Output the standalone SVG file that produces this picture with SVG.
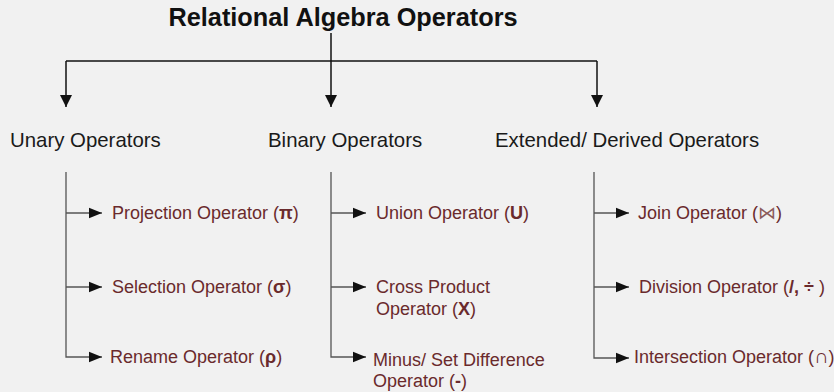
<svg xmlns="http://www.w3.org/2000/svg" width="834" height="392" viewBox="0 0 834 392">
<style>
.title{font-family:"Liberation Sans",Arial,sans-serif;font-weight:bold;font-size:25.3px;fill:#111}
.head{font-family:"Liberation Sans",Arial,sans-serif;font-size:20.4px;fill:#1a1a1a}
.item{font-family:"Liberation Sans",Arial,sans-serif;font-size:18px;fill:#6a2a2c}
.b{font-weight:bold}
.ln{stroke:#111;stroke-width:1.5;fill:none}
.sl{stroke:#555;stroke-width:1.3;fill:none}
</style>
<defs>
<marker id="big" viewBox="0 0 10 10" refX="10" refY="5" markerWidth="12" markerHeight="12" markerUnits="userSpaceOnUse" orient="auto"><path d="M0,0 L10,5 L0,10 Z" fill="#111"/></marker>
<marker id="sm" viewBox="0 0 10 10" refX="10" refY="5" markerWidth="13" markerHeight="13" markerUnits="userSpaceOnUse" orient="auto"><path d="M0,1 L10,5 L0,9 Z" fill="#111"/></marker>
</defs>
<rect width="834" height="392" fill="#f1f1f1"/>
<g id="title"><text class="title" x="343" y="26" text-anchor="middle">Relational Algebra Operators</text></g>
<g id="connectors">
<path class="ln" d="M331,33 V61"/>
<path class="ln" d="M66,61 H597"/>
<path class="ln" d="M66,61 V107" marker-end="url(#big)"/>
<path class="ln" d="M331,61 V107" marker-end="url(#big)"/>
<path class="ln" d="M597,61 V107" marker-end="url(#big)"/>
<path class="sl" d="M66,172 V357 H102" marker-end="url(#sm)"/>
<path class="sl" d="M66,213 H102" marker-end="url(#sm)"/>
<path class="sl" d="M66,287 H102" marker-end="url(#sm)"/>
<path class="sl" d="M331,172 V357 H366" marker-end="url(#sm)"/>
<path class="sl" d="M331,213 H366" marker-end="url(#sm)"/>
<path class="sl" d="M331,287 H366" marker-end="url(#sm)"/>
<path class="sl" d="M594,172 V358 H629" marker-end="url(#sm)"/>
<path class="sl" d="M594,213 H629" marker-end="url(#sm)"/>
<path class="sl" d="M594,287 H629" marker-end="url(#sm)"/>
</g>
<g id="unary"><text class="head" x="10" y="147">Unary Operators</text></g>
<g id="binary"><text class="head" x="268" y="147">Binary Operators</text></g>
<g id="extended"><text class="head" x="495" y="147">Extended/ Derived Operators</text></g>
<g id="projection"><text class="item" x="112" y="219">Projection Operator (<tspan class="b">π</tspan>)</text></g>
<g id="selection"><text class="item" x="112" y="293">Selection Operator (<tspan class="b">σ</tspan>)</text></g>
<g id="rename"><text class="item" x="110" y="363">Rename Operator (<tspan class="b">ρ</tspan>)</text></g>
<g id="union"><text class="item" x="376" y="219">Union Operator (<tspan class="b">U</tspan>)</text></g>
<g id="cross"><text class="item" x="376" y="293">Cross Product</text><text class="item" x="376" y="315">Operator (<tspan class="b">X</tspan>)</text></g>
<g id="minus"><text class="item" x="373" y="366">Minus/ Set Difference</text><text class="item" x="373" y="387">Operator (<tspan class="b">-</tspan>)</text></g>
<g id="join"><text class="item" x="638" y="219">Join Operator (<tspan font-weight="300" fill="#8a5a5a">⋈</tspan>)</text></g>
<g id="division"><text class="item" x="639" y="293">Division Operator (<tspan class="b">/, ÷ </tspan>)</text></g>
<g id="intersection"><text class="item" x="634" y="363">Intersection Operator (<tspan font-size="20">∩</tspan>)</text></g>
</svg>
